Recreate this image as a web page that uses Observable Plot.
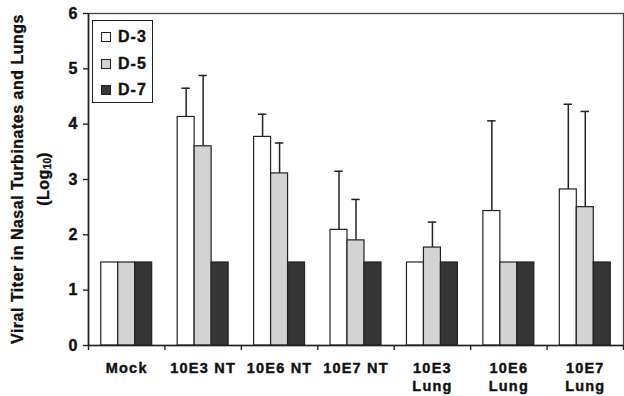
<!DOCTYPE html>
<html>
<head>
<meta charset="utf-8">
<script src="https://cdn.jsdelivr.net/npm/d3@7"></script>
<script src="https://cdn.jsdelivr.net/npm/@observablehq/plot@0.6"></script>
<style>
  html, body { margin: 0; padding: 0; background: #fff; }
  #wrap { position: relative; width: 624px; height: 396px; font-family: "Liberation Sans", Arial, sans-serif; }
  #ytitle { position: absolute; left: -149px; top: 153px; width: 360px; height: 52px; transform: rotate(-90deg);
    text-align: center; font-weight: bold; font-size: 16px; line-height: 26px; color: #111; letter-spacing: 0.5px;
    -webkit-text-stroke: 0.35px #111; }
  #ytitle sub { font-size: 10px; vertical-align: -2px; line-height: 0; letter-spacing: 0; }
  #legend { position: absolute; left: 92px; top: 20px; width: 59px; height: 81px; border: 1.5px solid #222; background: #fff; }
  .li { position: absolute; left: 8px; height: 20px; display: flex; align-items: center; font-weight: bold; font-size: 16px;
    letter-spacing: 1px; color: #111; -webkit-text-stroke: 0.35px #111; }
  .sw { width: 8px; height: 8px; border: 1px solid #222; margin-right: 7px; }
</style>
</head>
<body>
<div id="wrap"></div>
<script>
const categories = ["Mock", "10E3 NT", "10E6 NT", "10E7 NT", "10E3\nLung", "10E6\nLung", "10E7\nLung"];
const series = ["D-3", "D-5", "D-7"];
const colors = ["#ffffff", "#d3d3d3", "#363636"];
const d3Values = [1.5, 4.13, 3.77, 2.09, 1.5, 2.43, 2.82];
const d5Values = [1.5, 3.60, 3.11, 1.90, 1.77, 1.5, 2.50];
const d7Values = [1.5, 1.5, 1.5, 1.5, 1.5, 1.5, 1.5];
const d3Err = [0, 0.52, 0.41, 1.06, 0, 1.63, 1.54];
const d5Err = [0, 1.28, 0.55, 0.74, 0.46, 0, 1.73];
const d7Err = [0, 0, 0, 0, 0, 0, 0];
const yTicks = [0, 1, 2, 3, 4, 5, 6];

const valuesBySeries = [d3Values, d5Values, d7Values];
const errBySeries = [d3Err, d5Err, d7Err];
const groupWidth = 2 / 3;
const barW = groupWidth / series.length;
const rows = [];
categories.forEach((c, i) => {
  series.forEach((s, j) => {
    const x1 = i - groupWidth / 2 + j * barW;
    rows.push({cat: c, i, series: s, value: valuesBySeries[j][i], err: errBySeries[j][i],
      x1, x2: x1 + barW, xc: x1 + barW / 2});
  });
});
const errRows = rows.filter(d => d.err > 0);
const capHalf = 0.055;
const boundaries = d3.range(categories.length + 1).map(i => i - 0.5);

const font = "'Liberation Sans', Arial, sans-serif";
const chart = Plot.plot({
  width: 624,
  height: 396,
  marginLeft: 88,
  marginRight: 1,
  marginTop: 13,
  marginBottom: 51,
  style: {fontFamily: font, background: "#fff", overflow: "visible"},
  x: {type: "linear", domain: [-0.5, categories.length - 0.5], axis: null},
  y: {domain: [0, 6], axis: null, label: null},
  color: {domain: series, range: colors},
  marks: [
    Plot.frame({stroke: "#444", strokeWidth: 1.3}),
    Plot.ruleX(errRows, {x: "xc", y1: "value", y2: d => d.value + d.err, stroke: "#222", strokeWidth: 1.5}),
    Plot.ruleY(errRows, {x1: d => d.xc - capHalf, x2: d => d.xc + capHalf, y: d => d.value + d.err, stroke: "#222", strokeWidth: 1.5}),
    Plot.rectY(rows, {x1: "x1", x2: "x2", y1: 0, y2: "value", fill: "series", stroke: "#222", strokeWidth: 1.2}),
    Plot.ruleX([-0.5], {stroke: "#222", strokeWidth: 1.6}),
    Plot.ruleY([0], {stroke: "#222", strokeWidth: 1.6}),
    Plot.axisY({ticks: yTicks, tickSize: 5, tickPadding: 6, tickFormat: d3.format("d"), label: null, fontSize: 16, fontWeight: "bold", stroke: "#222", fill: "#111", strokeWidth: 1.4}),
    Plot.axisX({ticks: boundaries, tickSize: 5, tickFormat: () => "", label: null, stroke: "#222", strokeWidth: 1.4}),
    Plot.axisX({ticks: d3.range(categories.length), tickSize: 0, tickPadding: 15, tickFormat: i => categories[i], label: null,
      fontSize: 14.5, fontWeight: "bold", fill: "#111", lineHeight: 1.22})
  ]
});
const wrap = document.getElementById("wrap");
wrap.appendChild(chart);
chart.querySelectorAll("text").forEach(t => {
  if (!t.textContent) return;
  if (isNaN(+t.textContent)) t.style.letterSpacing = "1.2px";
  t.setAttribute("stroke", "#111");
  t.setAttribute("stroke-width", "0.4");
});

const yt = document.createElement("div");
yt.id = "ytitle";
yt.innerHTML = "Viral Titer in Nasal Turbinates and Lungs<br>(Log<sub>10</sub>)";
wrap.appendChild(yt);

const lg = document.createElement("div");
lg.id = "legend";
series.forEach((s, j) => {
  const item = document.createElement("div");
  item.className = "li";
  item.style.top = (6 + j * 26.5) + "px";
  const sw = document.createElement("span");
  sw.className = "sw";
  sw.style.background = colors[j];
  item.appendChild(sw);
  item.appendChild(document.createTextNode(s));
  lg.appendChild(item);
});
wrap.appendChild(lg);
</script>
</body>
</html>
